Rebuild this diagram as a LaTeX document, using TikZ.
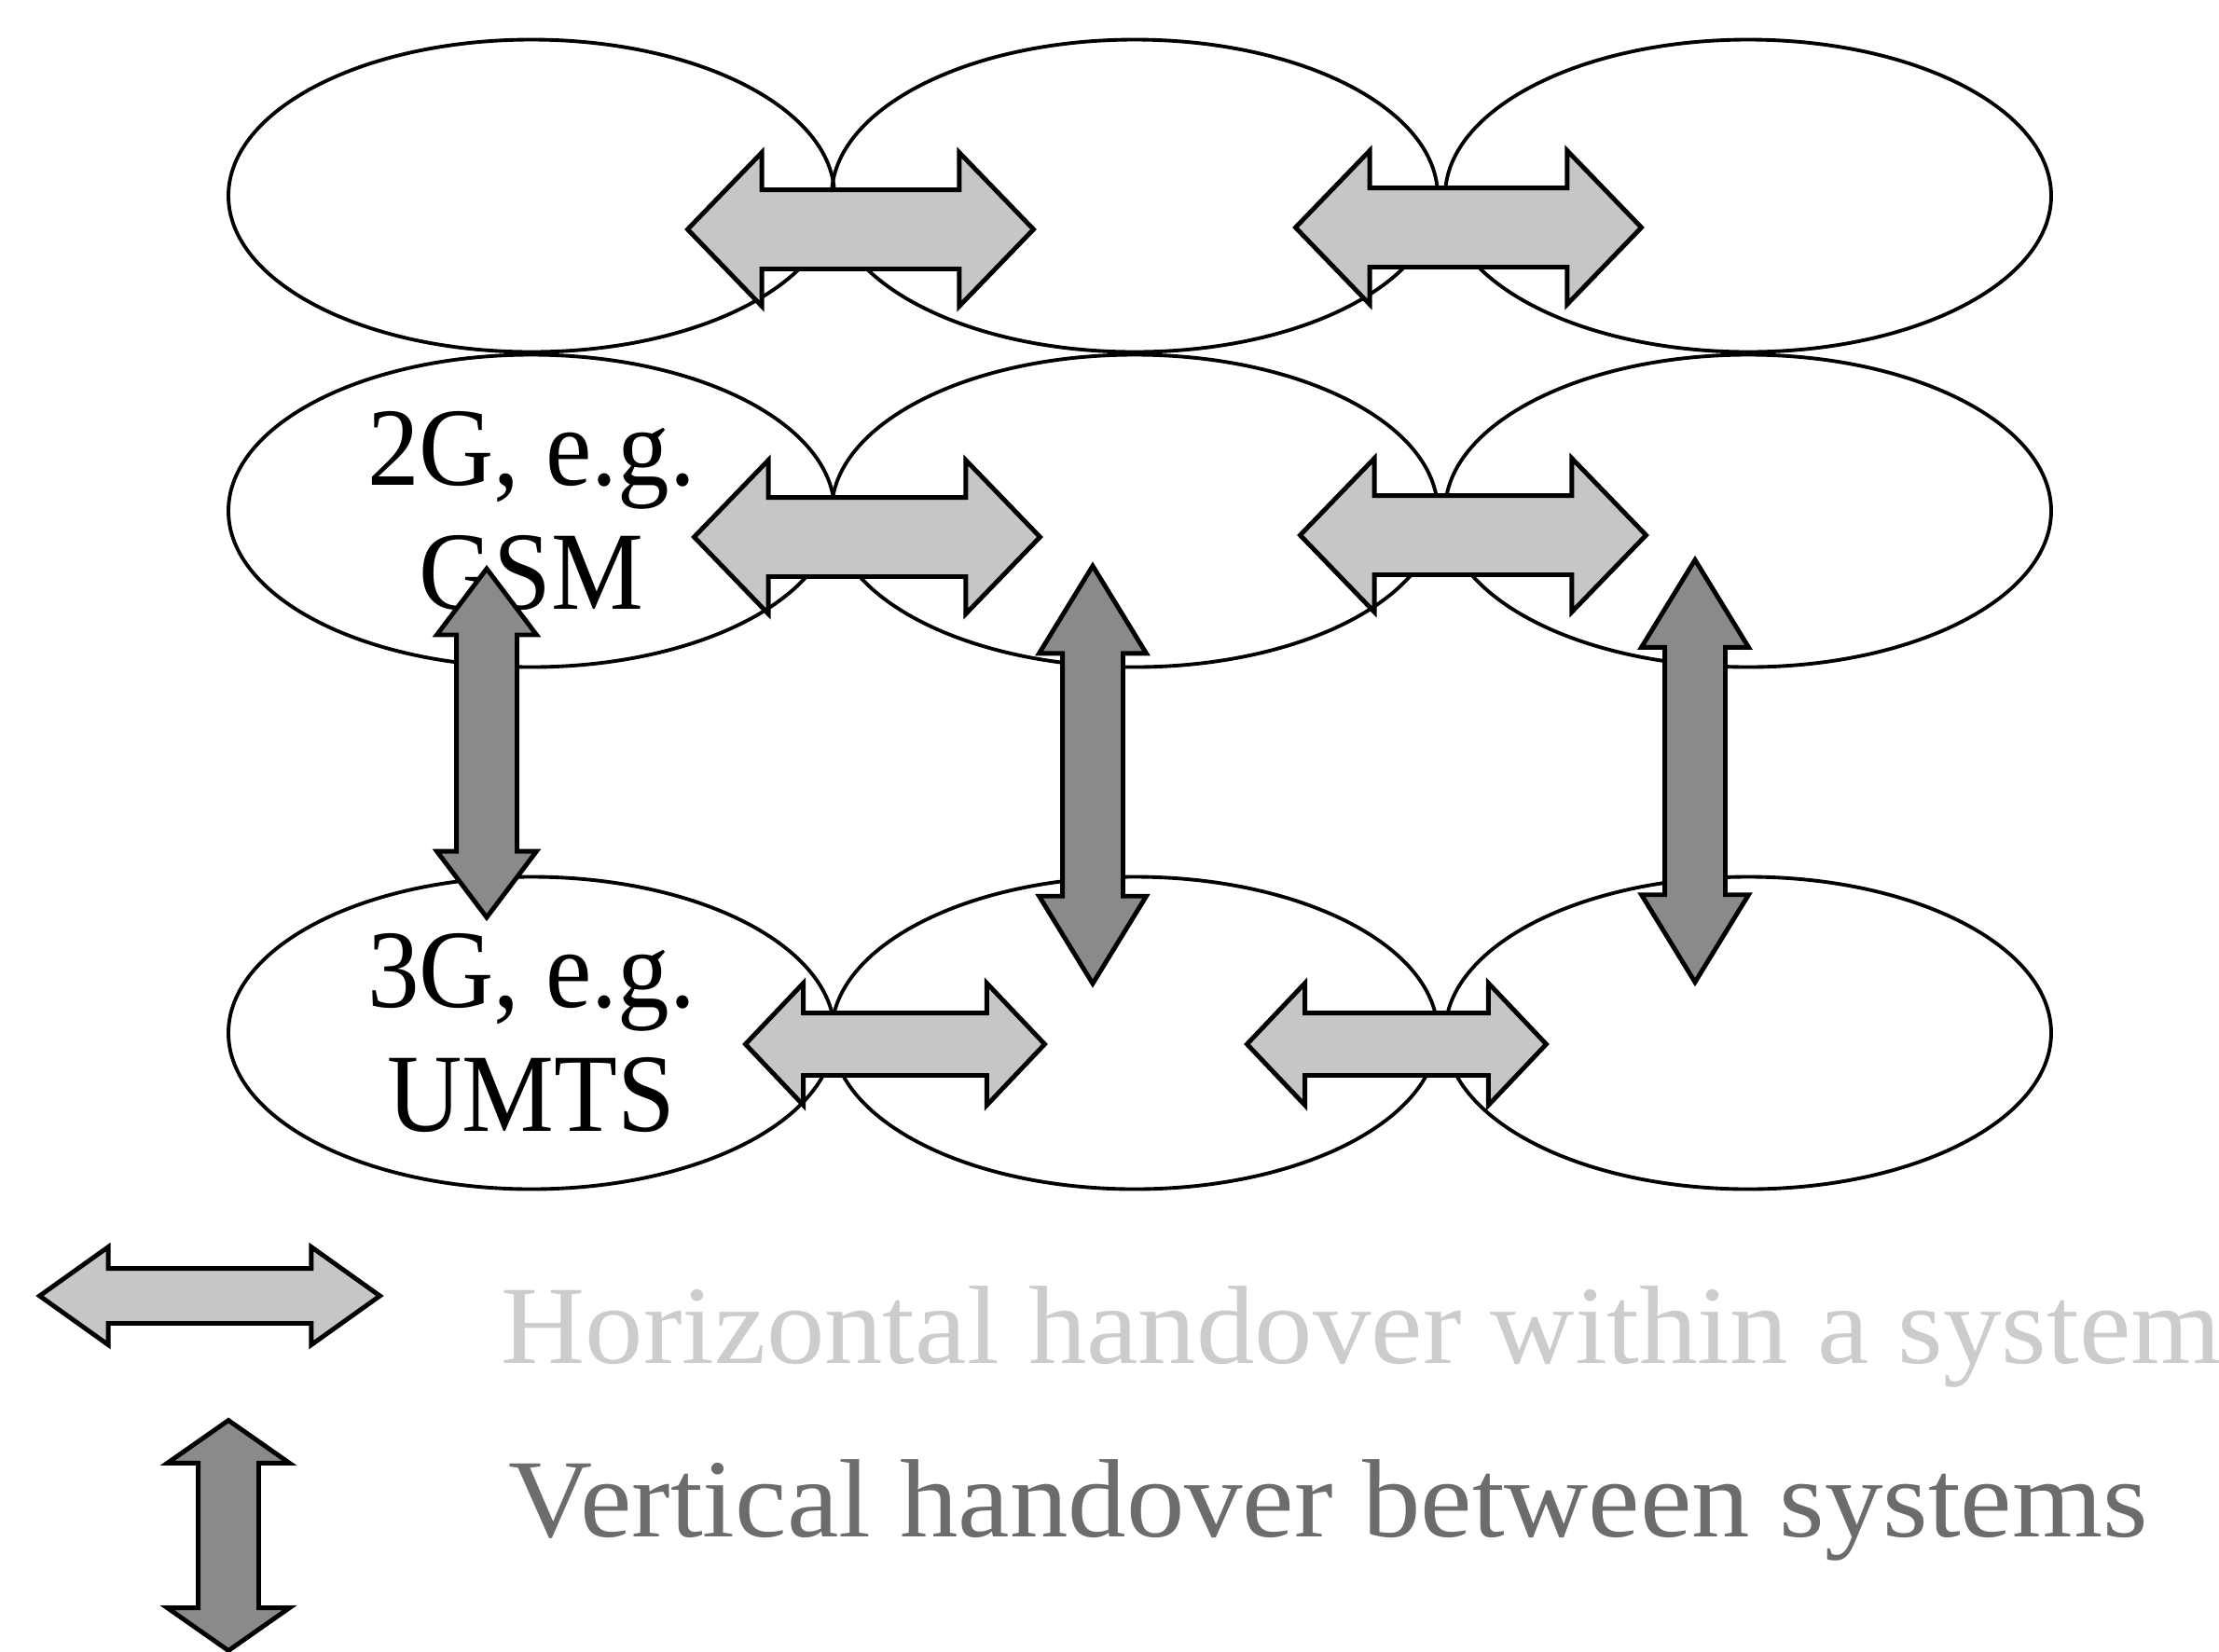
\documentclass[tikz,border=0pt]{standalone}
\usepackage{fontspec}
\setmainfont{Liberation Serif}
\newfontfamily\cellfont[FakeStretch=0.93]{Liberation Serif}
\newfontfamily\keyfont[FakeStretch=1.045]{Liberation Serif}
\usetikzlibrary{shapes.geometric,shapes.arrows}

\definecolor{hgray}{RGB}{198,198,198}
\definecolor{vgray}{RGB}{138,138,138}
\definecolor{htext}{RGB}{204,204,204}
\definecolor{vtext}{RGB}{108,108,108}

\tikzset{
    cell/.style={ellipse, draw, line width=1.1pt, minimum width=6.5cm, minimum height=3.35cm},
    celltext/.style={align=center, inner sep=0pt, font=\cellfont\fontsize{34}{38}\selectfont},
    hand/.style={double arrow, draw, line width=1.4pt, inner xsep=0pt, double arrow head indent=0pt},
    hbig/.style={hand, fill=hgray, minimum height=3.71cm, inner ysep=0.40cm,
        double arrow head extend=0.40cm, double arrow tip angle=92},
    hsmall/.style={hand, fill=hgray, minimum height=3.21cm, inner ysep=0.31cm,
        double arrow head extend=0.32cm, double arrow tip angle=93},
    vlong/.style={hand, fill=vgray, rotate=90, minimum height=4.5cm, inner ysep=0.30cm,
        double arrow head extend=0.25cm, double arrow tip angle=63},
    keytext/.style={anchor=base west, inner sep=0pt, font=\keyfont\fontsize{34}{38}\selectfont}
}

\begin{document}
\begin{tikzpicture}
    \useasboundingbox (0,0) rectangle (23.8,-17.71);
    %cells
    \foreach \x [count=\i] in {5.70,12.17,18.75} {
        \node[cell] (top\i) at (\x,-2.10) {};
        \node[cell] (gsm\i) at (\x,-5.48) {};
        \node[cell] (umts\i) at (\x,-11.08) {};
    }
    \node[celltext] (gsmname) at (gsm1) {2G, e.g.\\GSM};
    \node[celltext] (umtsname) at (umts1) {3G, e.g.\\UMTS};

    %horizontal handover
    \node[hbig] (hup1) at (9.23,-2.46) {};
    \node[hbig] (hup2) at (15.75,-2.44) {};
    \node[hbig] (hmid1) at (9.30,-5.76) {};
    \node[hbig] (hmid2) at (15.80,-5.74) {};
    \node[hsmall] (hlow1) at (9.60,-11.20) {};
    \node[hsmall] (hlow2) at (14.98,-11.20) {};

    %vertical handover
    \node[vlong, minimum height=3.74cm, double arrow head extend=0.21cm,
        double arrow tip angle=74] (v1) at (5.22,-7.97) {};
    \node[vlong, minimum height=4.48cm] (v2) at (11.72,-8.31) {};
    \node[vlong, minimum height=4.53cm] (v3) at (18.18,-8.27) {};

    %legend
    \node[hand, fill=hgray, minimum height=3.65cm, inner ysep=0.27cm,
        double arrow head extend=0.23cm, double arrow tip angle=71] (hkey) at (2.25,-13.90) {};
    \node[hand, fill=vgray, rotate=90, minimum height=2.47cm, inner ysep=0.30cm,
        double arrow head extend=0.33cm, double arrow tip angle=110] (vkey) at (2.45,-16.47) {};
    \node[keytext, text=htext] (hkeytext) at (5.37,-14.62) {Horizontal handover within a system};
    \node[keytext, text=vtext] (vkeytext) at (5.45,-16.48) {Vertical handover between systems};
\end{tikzpicture}
\end{document}
